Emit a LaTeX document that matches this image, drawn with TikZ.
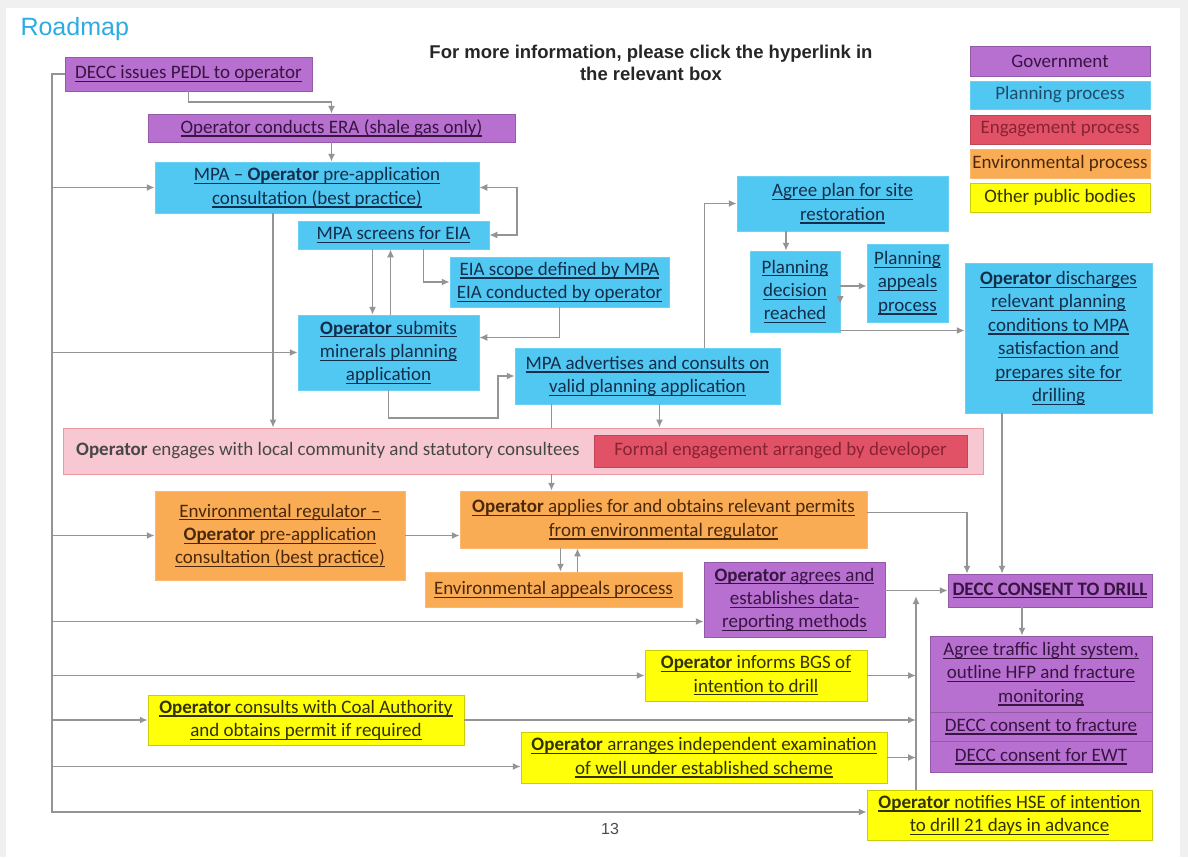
\documentclass[tikz,border=0pt]{standalone}
\usepackage{fontspec}
\setmainfont{Carlito}
\newfontfamily\arialfont{Liberation Sans}
\usetikzlibrary{arrows.meta}

\definecolor{govfill}{RGB}{184,112,208}
\definecolor{planfill}{RGB}{80,200,242}
\definecolor{engfill}{RGB}{226,82,102}
\definecolor{bandfill}{RGB}{248,200,210}
\definecolor{envfill}{RGB}{250,172,85}
\definecolor{pubfill}{RGB}{255,255,10}
\definecolor{govtext}{RGB}{55,20,65}
\definecolor{plantext}{RGB}{20,45,75}
\definecolor{engtext}{RGB}{135,35,50}
\definecolor{envtext}{RGB}{75,40,10}
\definecolor{pubtext}{RGB}{50,50,0}
\definecolor{linegray}{RGB}{148,148,148}
\definecolor{roadblue}{RGB}{45,172,225}

\newsavebox{\lnkbox}
\newcommand{\lnk}[1]{\sbox{\lnkbox}{#1}\leavevmode\rlap{\rule[-3.4pt]{\wd\lnkbox}{1.3pt}}\usebox{\lnkbox}}
\newcommand{\opr}{\textbf{Operator}}

\begin{document}
\begin{tikzpicture}[x=1pt,y=-1pt,
  box/.style={inner sep=2pt, align=center, font=\fontsize{19}{23.4}\selectfont},
  govbox/.style={box, fill=govfill, draw=govfill!80!black, line width=0.5pt, text=govtext},
  planbox/.style={box, fill=planfill, draw=planfill!85!white, line width=0.5pt, text=plantext},
  envbox/.style={box, fill=envfill, draw=envfill!85!white, line width=0.5pt, text=envtext},
  pubbox/.style={box, fill=pubfill, draw=pubfill!80!black, line width=0.5pt, text=pubtext},
  engbox/.style={box, fill=engfill, draw=engfill!85!black, line width=0.5pt, text=engtext},
  line/.style={draw=linegray, line width=1.8pt},
  conn/.style={line, -{Latex[length=8pt,width=7pt]}},
  ]
\useasboundingbox (0,0) rectangle (1188,857);
\fill[gray!12] (0,0) rectangle (1188,857);
\fill[white] (6,8) rectangle (1180,857);

% headings
\node[anchor=west, text=roadblue, font=\arialfont\fontsize{25}{30}\selectfont] (roadmap) at (17,29) {Roadmap};
\node[align=center, font=\arialfont\bfseries\fontsize{18.5}{22}\selectfont, text=black!85] (info) at (651,63)
  {For more information, please click the hyperlink in\\the relevant box};
\node[font=\arialfont\fontsize{16}{18}\selectfont, text=black!70] (pagenum) at (610,829) {13};

% legend
\node[govbox, minimum width=180pt, minimum height=30pt] (lgov) at (1060,61) {Government};
\node[planbox, minimum width=180pt, minimum height=28pt, text=plantext!80!planfill] (lplan) at (1060,95) {Planning process};
\node[engbox, minimum width=180pt, minimum height=29pt] (leng) at (1060,129.5) {Engagement process};
\node[envbox, minimum width=180pt, minimum height=29pt] (lenv) at (1060,163.5) {Environmental process};
\node[pubbox, minimum width=180pt, minimum height=29pt] (lpub) at (1060,197.5) {Other public bodies};

% planning stage
\node[govbox, minimum width=247pt, minimum height=34pt] (pedl) at (188.5,74) {\lnk{DECC issues PEDL to operator}};
\node[govbox, minimum width=367pt, minimum height=28pt] (era) at (331.5,128) {\lnk{Operator conducts ERA (shale gas only)}};
\node[planbox, minimum width=324pt, minimum height=51pt] (mpapre) at (317,187.5)
  {\lnk{MPA -- \textbf{Operator} pre-application}\\\lnk{consultation (best practice)}};
\node[planbox, minimum width=191pt, minimum height=28pt] (screen) at (393.5,235) {\lnk{MPA screens for EIA}};
\node[planbox, minimum width=219pt, minimum height=50pt] (eiascope) at (559.5,282)
  {\lnk{EIA scope defined by MPA}\\\lnk{EIA conducted by operator}};
\node[planbox, minimum width=181pt, minimum height=75pt] (submit) at (388.5,352.5)
  {\lnk{\opr{} submits}\\\lnk{minerals planning}\\\lnk{application}};
\node[planbox, minimum width=265pt, minimum height=56pt] (advert) at (647.5,376)
  {\lnk{MPA advertises and consults on}\\\lnk{valid planning application}};
\node[planbox, minimum width=211pt, minimum height=55pt] (restore) at (842.5,203.5)
  {\lnk{Agree plan for site}\\\lnk{restoration}};
\node[planbox, minimum width=90pt, minimum height=81pt] (decision) at (795,291.5)
  {\lnk{Planning}\\\lnk{decision}\\\lnk{reached}};
\node[planbox, minimum width=81pt, minimum height=78pt] (appeals) at (907.5,283)
  {\lnk{Planning}\\\lnk{appeals}\\\lnk{process}};
\node[planbox, minimum width=187pt, minimum height=150pt] (discharge) at (1058.5,338)
  {\lnk{\opr{} discharges}\\\lnk{relevant planning}\\\lnk{conditions to MPA}\\\lnk{satisfaction and}\\\lnk{prepares site for}\\\lnk{drilling}};

% engagement
\node[fill=bandfill, draw=engfill!60!white, line width=0.8pt, minimum width=920pt, minimum height=46pt] (engage) at (523,451) {};
\node[box, anchor=west, text=black!72] (engtxt) at (74,451) {\opr{} engages with local community and statutory consultees};
\node[engbox, minimum width=373pt, minimum height=32pt] (formal) at (780.5,451) {Formal engagement arranged by developer};

% environmental stage
\node[envbox, minimum width=250pt, minimum height=89pt] (envreg) at (280,535.5)
  {\lnk{Environmental regulator --}\\\lnk{\opr{} pre-application}\\\lnk{consultation (best practice)}};
\node[envbox, minimum width=407pt, minimum height=57pt] (permits) at (663.5,519.5)
  {\lnk{\opr{} applies for and obtains relevant permits}\\\lnk{from environmental regulator}};
\node[envbox, minimum width=257pt, minimum height=35pt] (envappeal) at (553.5,589.5) {\lnk{Environmental appeals process}};

% consent stage
\node[govbox, minimum width=181pt, minimum height=75pt] (datarep) at (794.5,599.5)
  {\lnk{\opr{} agrees and}\\\lnk{establishes data-}\\\lnk{reporting methods}};
\node[govbox, minimum width=204pt, minimum height=33pt] (consent) at (1050,590.5) {\lnk{\textbf{DECC CONSENT TO DRILL}}};
\node[govbox, minimum width=222pt, minimum height=76pt] (traffic) at (1041,674)
  {\lnk{Agree traffic light system,}\\\lnk{outline HFP and fracture}\\\lnk{monitoring}};
\node[govbox, minimum width=222pt, minimum height=29pt] (fracture) at (1041,726.5) {\lnk{DECC consent to fracture}};
\node[govbox, minimum width=222pt, minimum height=31pt] (ewt) at (1041,756.5) {\lnk{DECC consent for EWT}};

% other public bodies
\node[pubbox, minimum width=222pt, minimum height=51pt] (bgs) at (756,675.5)
  {\lnk{\opr{} informs BGS of}\\\lnk{intention to drill}};
\node[pubbox, minimum width=316pt, minimum height=50pt] (coal) at (306,720)
  {\lnk{\opr{} consults with Coal Authority}\\\lnk{and obtains permit if required}};
\node[pubbox, minimum width=366pt, minimum height=51pt] (exam) at (704,757.5)
  {\lnk{\opr{} arranges independent examination}\\\lnk{of well under established scheme}};
\node[pubbox, minimum width=285pt, minimum height=50pt] (hse) at (1009.5,815)
  {\lnk{\opr{} notifies HSE of intention}\\\lnk{to drill 21 days in advance}};

% left bus
\coordinate (bustop) at (52,74);
\coordinate (busbot) at (52,812);
\draw[conn] (pedl.west) -- (bustop) -- (busbot) -- (busbot -| hse.west);
\draw[conn] (bustop |- mpapre.west) -- (mpapre.west);
\draw[conn] (bustop |- submit.west) -- (submit.west);
\draw[conn] (bustop |- envreg.west) -- (envreg.west);
\draw[conn] ([yshift=-22pt]bustop |- datarep.west) -- ([yshift=-22pt]datarep.west);
\draw[conn] (bustop |- bgs.west) -- (bgs.west);
\draw[conn] (bustop |- coal.west) -- (coal.west);
\draw[conn] ([yshift=-9pt]bustop |- exam.west) -- ([yshift=-9pt]exam.west);

% planning links
\draw[conn] (pedl.south) |- ([yshift=12pt]era.north) -- (era.north);
\draw[conn] (era.south) -- (era.south |- mpapre.north);
\draw[conn] ([xshift=-44pt]mpapre.south) -- ([xshift=-44pt]mpapre.south |- engage.north);
\draw[line, {Latex[length=8pt,width=7pt]}-{Latex[length=8pt,width=7pt]}] (mpapre.east) -- ++(38,0) |- (screen.east);
\draw[conn] ([xshift=-21pt]screen.south) -- ([xshift=-21pt]screen.south |- submit.north);
\draw[conn] ([xshift=2pt]submit.north) -- ([xshift=2pt]submit.north |- screen.south);
\draw[conn] ([xshift=30pt]screen.south) |- (eiascope.west);
\draw[conn] (eiascope.south) |- ([yshift=15pt]submit.east);
\draw[conn] (submit.south) -- ++(0,28) -| ([xshift=-17pt]advert.west) -- (advert.west);
\draw[conn] ([xshift=57pt]advert.north) |- (restore.west);
\draw[conn] ([xshift=-9pt]decision.north |- restore.south) -- ([xshift=-9pt]decision.north);
\draw[conn] ([yshift=5.5pt]decision.east) -- ([yshift=5.5pt]decision.east -| appeals.west);
\draw[conn] ([yshift=-12.5pt]appeals.west -| decision.east) -- ([yshift=-12.5pt]decision.east);
\draw[conn] ([yshift=-39pt]decision.east) -- ([yshift=-39pt]decision.east -| discharge.west);
\draw[conn] ([xshift=-48pt]consent.north |- discharge.south) -- ([xshift=-48pt]consent.north);

% engagement and permits
\draw[line] ([xshift=-96pt]advert.south) -- ([xshift=-96pt]advert.south |- engage.north);
\draw[conn] ([xshift=12pt]advert.south) -- ([xshift=12pt]advert.south |- engage.north);
\draw[conn] ([xshift=-96pt]advert.south |- engage.south) -- ([xshift=-96pt]advert.south |- permits.north);
\draw[conn] (envreg.east) -- (envreg.east -| permits.west);
\draw[conn] ([xshift=7pt]envappeal.north |- permits.south) -- ([xshift=7pt]envappeal.north);
\draw[conn] ([xshift=24pt]envappeal.north) -- ([xshift=24pt]envappeal.north |- permits.south);
\draw[conn] ([yshift=7pt]permits.east) -| ([xshift=-83pt]consent.north);

% consent links
\coordinate (col) at (916,591);
\draw[conn] (consent.west -| datarep.east) -- (consent.west);
\draw[conn] (col |- hse.north) -- ([yshift=-5pt]col);
\draw[conn] (bgs.east) -- (col |- bgs.east);
\draw[conn] (coal.east) -- (col |- coal.east);
\draw[conn] (exam.east) -- (col |- exam.east);
\draw[conn] ([xshift=-28pt]consent.south) -- ([xshift=-28pt]consent.south |- traffic.north);
\end{tikzpicture}
\end{document}
